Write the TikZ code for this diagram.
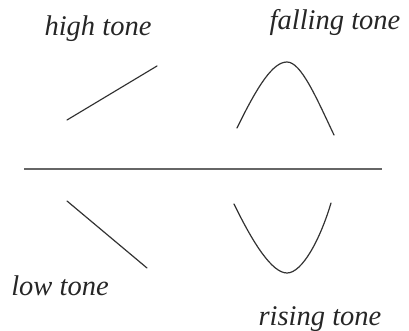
\documentclass[tikz,border=0pt]{standalone}
\usepackage{fontspec}
\setmainfont{Liberation Serif}
\begin{document}
\begin{tikzpicture}[x=1pt,y=-1pt,
  lbl/.style={font=\fontsize{28.5}{32}\selectfont\itshape, anchor=base, inner sep=0pt, text=black!85},
  tone/.style={draw=black!80, line width=1.2pt, line cap=round}]
\useasboundingbox (0,0) rectangle (409,331);
\node[lbl] (high) at (98,36) {high tone};
\node[lbl] (fall) at (335,30) {falling tone};
\node[lbl] (low) at (60,295) {low tone};
\node[lbl] (rise) at (320,325) {rising tone};
\draw[draw=black!60, line width=1.8pt] (24,169) -- (382,169);
\draw[tone] (67,120) -- (157,66);
\draw[tone] (67,201) -- (147,268);
\draw[tone] (237,128) .. controls (258,85) and (273,62) .. (287,62) .. controls (301,62) and (316,97) .. (334,135);
\draw[tone] (234,204) .. controls (253,243) and (272,273) .. (287,273) .. controls (302,273) and (320,240) .. (331,203);
\end{tikzpicture}
\end{document}
